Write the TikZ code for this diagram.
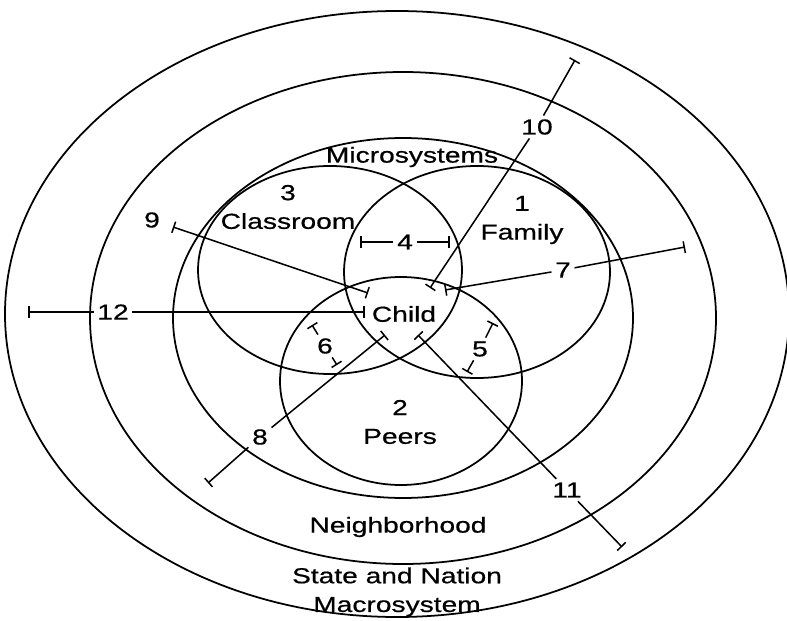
\documentclass[tikz,border=0pt]{standalone}
\usepackage{fontspec}
\setmainfont{Liberation Sans}[FakeStretch=1.3, FakeBold=0.6]
\usepackage{tikz}
\usetikzlibrary{arrows.meta, positioning}

\begin{document}
\begin{tikzpicture}[
    x=0.03cm, y=-0.03cm,
    ring/.style={draw, line width=1.5pt},
    link/.style={line width=1.3pt},
    tkl/.style={link, {Bar[width=10pt]}-},
    tkr/.style={link, -{Bar[width=10pt]}},
    tkb/.style={link, {Bar[width=10pt]}-{Bar[width=10pt]}},
    lbl/.style={font=\fontsize{18.5}{24.5}\selectfont, align=center, inner sep=2pt},
    num/.style={lbl, inner sep=3pt}
]
\useasboundingbox (0,0) rectangle (787,621);

% --- Nested systems ---
\draw[ring] (397,314) ellipse [x radius=392, y radius=303];
\draw[ring] (403,318) ellipse [x radius=313, y radius=246];
\draw[ring] (403,318) ellipse [x radius=230, y radius=180];

% --- Microsystems ---
\draw[ring] (330,270) ellipse [x radius=132, y radius=104];
\draw[ring] (477,272) ellipse [x radius=133, y radius=106];
\draw[ring] (401,381) ellipse [x radius=121, y radius=104];

% --- Labels ---
\node[lbl] (micro) at (412,157) {Microsystems};
\node[lbl] (class) at (288,207) {3\\Classroom};
\node[lbl] (family) at (522,220) {1\\Family};
\node[lbl] (peers) at (400,422) {2\\Peers};
\node[lbl] (child) at (404,314) {Child};
\node[lbl] (neigh) at (398,527) {Neighborhood};
\node[lbl] (macro) at (397,592) {State and Nation\\Macrosystem};

% --- Tick ends ---
\coordinate (e4a) at (360,242);  \coordinate (e4b) at (450,242);
\coordinate (e5a) at (493,323);  \coordinate (e5b) at (467,372);
\coordinate (e6a) at (312,325);  \coordinate (e6b) at (337,365);
\coordinate (e7a) at (445,290);  \coordinate (e7b) at (685,247);
\coordinate (e8a) at (385,335);  \coordinate (e8b) at (208,483);
\coordinate (e9a) at (173,227);  \coordinate (e9b) at (368,293);
\coordinate (e10a) at (430,288); \coordinate (e10b) at (575,60);
\coordinate (e11a) at (418,335); \coordinate (e11b) at (622,547);
\coordinate (e12a) at (28,312);  \coordinate (e12b) at (365,312);

% --- Numbered links ---
\node[num] (n4) at (405,242) {4};
\node[num] (n5) at (480,349) {5};
\node[num] (n6) at (325,346) {6};
\node[num] (n7) at (563,270) {7};
\node[num] (n8) at (260,437) {8};
\node[num] (n9) at (152,220) {9};
\node[num] (n10) at (537,127) {10};
\node[num] (n11) at (567,490) {11};
\node[num] (n12) at (113,312) {12};

\draw[tkl] (e4a) -- (n4);   \draw[tkr] (n4) -- (e4b);
\draw[tkl] (e5a) -- (n5);   \draw[tkr] (n5) -- (e5b);
\draw[tkl] (e6a) -- (n6);   \draw[tkr] (n6) -- (e6b);
\draw[tkl] (e7a) -- (n7);   \draw[tkr] (n7) -- (e7b);
\draw[tkl] (e8a) -- (n8);   \draw[tkr] (n8) -- (e8b);
\draw[tkb] (e9a) -- (e9b);
\draw[tkl] (e10a) -- (n10); \draw[tkr] (n10) -- (e10b);
\draw[tkl] (e11a) -- (n11); \draw[tkr] (n11) -- (e11b);
\draw[tkl] (e12a) -- (n12); \draw[tkr] (n12) -- (e12b);

\end{tikzpicture}
\end{document}
